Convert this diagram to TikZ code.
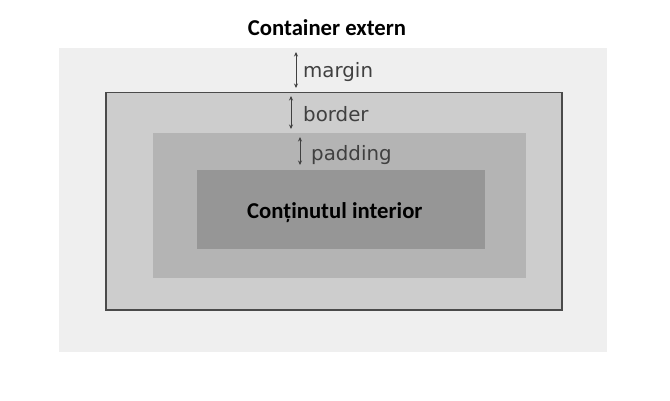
\documentclass[tikz,border=0pt]{standalone}
\usepackage{fontspec}
\newfontfamily\calib{Carlito}
\newfontfamily\dejavu{DejaVu Sans}
\usetikzlibrary{arrows.meta}
\definecolor{marginc}{HTML}{EFEFEF}
\definecolor{borderc}{HTML}{CDCDCD}
\definecolor{paddingc}{HTML}{B4B4B4}
\definecolor{contentc}{HTML}{969696}
\definecolor{edgec}{HTML}{4A4A4A}
\definecolor{labelc}{HTML}{404040}
\tikzset{
  boxlabel/.style={font=\dejavu\fontsize{19.8}{22}\selectfont, text=labelc, anchor=base west, inner sep=0pt},
  titletext/.style={font=\calib\bfseries\fontsize{22.7}{26}\selectfont, text=black, inner sep=0pt},
  dimarrow/.style={{Stealth[length=4.5pt,width=4pt]}-{Stealth[length=4.5pt,width=4pt]}, draw=labelc, line width=0.9pt}
}
\begin{document}
\begin{tikzpicture}[x=1pt,y=-1pt]
\useasboundingbox (0,0) rectangle (670,400);
\fill[white] (0,0) rectangle (670,400);
% boxes
\fill[marginc] (59,48) rectangle (607,352);
\filldraw[fill=borderc, draw=edgec, line width=1.2pt] (106,92.5) rectangle (562,310);
\fill[paddingc] (153,133) rectangle (526,278);
\fill[contentc] (197,170) rectangle (485,249);
% title
\node[titletext, anchor=base] (title) at (327,35.5) {Container extern};
% content text
\node[titletext, anchor=base west] (content) at (247,218) {Conținutul interior};
% margin
\coordinate (m1) at (296,52);
\coordinate (m2) at (296,88);
\draw[dimarrow] (m1) -- (m2);
\node[boxlabel] (mlabel) at (303,77) {margin};
% border
\coordinate (b1) at (291,96);
\coordinate (b2) at (291,129);
\draw[dimarrow] (b1) -- (b2);
\node[boxlabel] (blabel) at (303,121) {border};
% padding
\coordinate (p1) at (300,137);
\coordinate (p2) at (300,165);
\draw[dimarrow] (p1) -- (p2);
\node[boxlabel] (plabel) at (311,160) {padding};
\end{tikzpicture}
\end{document}
